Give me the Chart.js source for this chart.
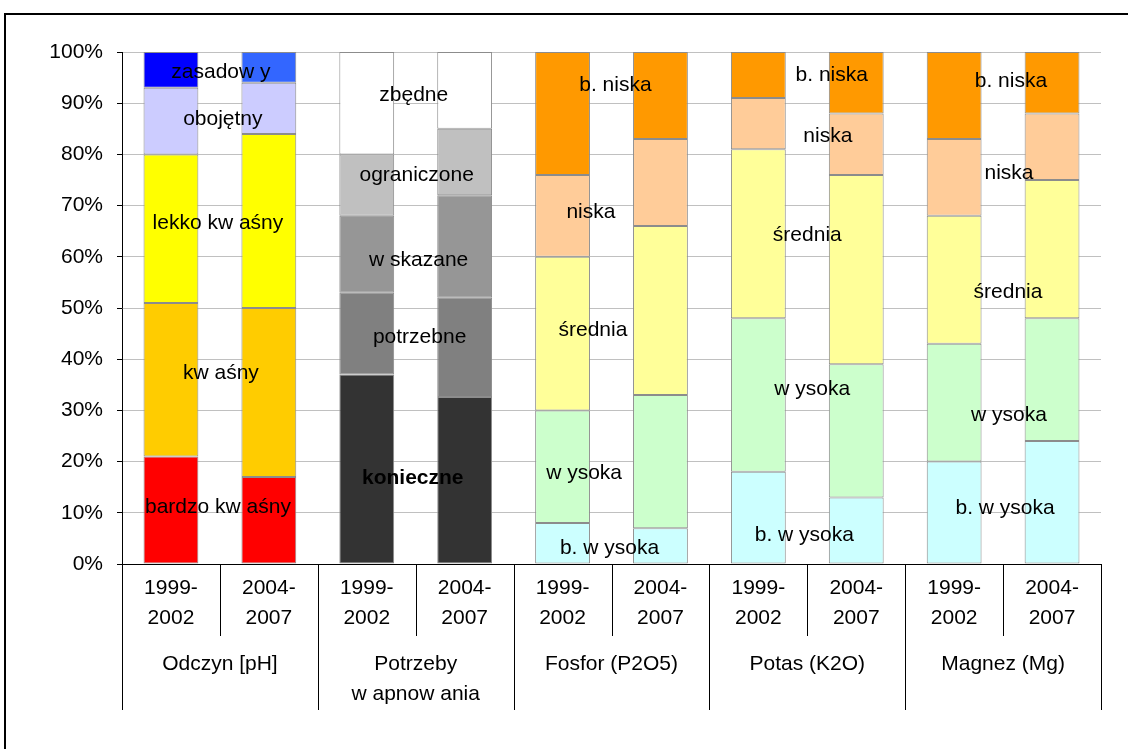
<!DOCTYPE html>
<html>
<head>
<meta charset="utf-8">
<script src="https://cdn.jsdelivr.net/npm/chart.js@4.4.1/dist/chart.umd.min.js"></script>
<style>
  html, body { margin: 0; padding: 0; background: #ffffff; }
  #wrap { width: 1128px; height: 749px; position: relative; }
</style>
</head>
<body>
<div id="wrap"><canvas id="c" width="1128" height="749"></canvas></div>
<script>
// ---------- DATA ----------
const tickLabels = [
  ['1999-', '2002'], ['2004-', '2007'],
  ['1999-', '2002'], ['2004-', '2007'],
  ['1999-', '2002'], ['2004-', '2007'],
  ['1999-', '2002'], ['2004-', '2007'],
  ['1999-', '2002'], ['2004-', '2007']
];
const groupNames = [
  ['Odczyn [pH]'],
  ['Potrzeby', 'w apnow ania'],
  ['Fosfor (P2O5)'],
  ['Potas (K2O)'],
  ['Magnez (Mg)']
];
// stacked shares [%], bottom level to top level
const level1 = [21, 17, 37, 32.6, 8, 7, 18, 13, 20, 24];
const level2 = [30, 33, 16, 19.4, 22, 26, 30, 26, 23, 24];
const level3 = [29, 34, 15, 20, 30, 33, 33, 37, 25, 27];
const level4 = [13, 10, 12, 13, 16, 17, 10, 12, 15, 13];
const level5 = [7, 6, 20, 15, 24, 17, 9, 12, 17, 12];
const yTicks = [0, 10, 20, 30, 40, 50, 60, 70, 80, 90, 100];

// segment label texts per group, top level first
const segNames = [
  ['zasadow y', 'obojętny', 'lekko kw aśny', 'kw aśny', 'bardzo kw aśny'],
  ['zbędne', 'ograniczone', 'w skazane', 'potrzebne', 'konieczne'],
  ['b. niska', 'niska', 'średnia', 'w ysoka', 'b. w ysoka'],
  ['b. niska', 'niska', 'średnia', 'w ysoka', 'b. w ysoka'],
  ['b. niska', 'niska', 'średnia', 'w ysoka', 'b. w ysoka']
];

// ---------- STYLES / ANNOTATION ANCHORS ----------
const colors = {
  l1: ['#FF0000', '#FF0000', '#333333', '#333333', '#CCFFFF', '#CCFFFF', '#CCFFFF', '#CCFFFF', '#CCFFFF', '#CCFFFF'],
  l2: ['#FFCC00', '#FFCC00', '#808080', '#808080', '#CCFFCC', '#CCFFCC', '#CCFFCC', '#CCFFCC', '#CCFFCC', '#CCFFCC'],
  l3: ['#FFFF00', '#FFFF00', '#969696', '#969696', '#FFFF99', '#FFFF99', '#FFFF99', '#FFFF99', '#FFFF99', '#FFFF99'],
  l4: ['#CCCCFF', '#CCCCFF', '#C0C0C0', '#C0C0C0', '#FFCC99', '#FFCC99', '#FFCC99', '#FFCC99', '#FFCC99', '#FFCC99'],
  l5: ['#0000FF', '#3366FF', '#FFFFFF', '#FFFFFF', '#FF9900', '#FF9900', '#FF9900', '#FF9900', '#FF9900', '#FF9900']
};
// [category-index position, value position] for each segment label
const segAnchors = [
  [[0.51, 96.1], [0.53, 86.9], [0.48, 66.6], [0.51, 37.3], [0.48, 11.1]],
  [[2.48, 91.6], [2.51, 76.0], [2.53, 59.4], [2.54, 44.3], [2.47, 16.8]],
  [[4.54, 93.6], [4.29, 68.8], [4.31, 45.6], [4.22, 17.7], [4.48, 3.1]],
  [[6.75, 95.5], [6.71, 83.5], [6.50, 64.3], [6.55, 34.2], [6.47, 5.7]],
  [[8.58, 94.2], [8.56, 76.4], [8.55, 53.0], [8.56, 29.1], [8.52, 10.9]]
];

const FONT = "'Liberation Sans', Arial, sans-serif";
const FS = 21;

function mkDs(label, data, bg) {
  return {
    label: label, data: data, backgroundColor: bg,
    borderColor: '#8c8c8c', borderWidth: 1, borderSkipped: false,
    categoryPercentage: 1.0, barPercentage: 0.56
  };
}

const decorPlugin = {
  id: 'decor',
  beforeDraw(chart) {
    const ctx = chart.ctx;
    ctx.save();
    ctx.fillStyle = '#ffffff';
    ctx.fillRect(0, 0, chart.width, chart.height);
    ctx.restore();
  },
  afterDraw(chart) {
    const ctx = chart.ctx;
    const xs = chart.scales.x, ys = chart.scales.y;
    const ca = chart.chartArea;
    const xAt = v => {
      const i = Math.floor(v);
      const p0 = xs.getPixelForValue(0), p1 = xs.getPixelForValue(1);
      return p0 + (p1 - p0) * v;
    };
    ctx.save();
    // outer frame
    ctx.strokeStyle = '#000';
    ctx.lineWidth = 2;
    ctx.beginPath();
    ctx.moveTo(5, chart.height + 5);
    ctx.lineTo(5, 14);
    ctx.lineTo(chart.width + 5, 14);
    ctx.stroke();

    // x-axis category dividers
    ctx.lineWidth = 1;
    ctx.strokeStyle = '#000';
    const n = tickLabels.length;
    for (let b = 0; b <= n; b++) {
      const x = Math.round(xAt(b - 0.5)) + 0.5;
      const long = (b % 2 === 0);
      ctx.beginPath();
      ctx.moveTo(x, ca.bottom);
      ctx.lineTo(x, long ? 710 : 636);
      ctx.stroke();
    }
    // group names
    ctx.fillStyle = '#000';
    ctx.font = FS + 'px ' + FONT;
    ctx.textAlign = 'center';
    ctx.textBaseline = 'middle';
    groupNames.forEach((g, gi) => {
      const cx = xAt(gi * 2 + 0.5);
      g.forEach((line, li) => ctx.fillText(line, cx, 664 + li * 30));
    });
    // segment labels
    segNames.forEach((names, gi) => {
      names.forEach((t, si) => {
        const a = segAnchors[gi][si];
        const bold = (gi === 1 && si === 4);
        ctx.font = (bold ? 'bold ' : '') + FS + 'px ' + FONT;
        ctx.fillText(t, xAt(a[0]), ys.getPixelForValue(a[1]));
      });
    });
    ctx.restore();
  }
};

new Chart(document.getElementById('c'), {
  type: 'bar',
  data: {
    labels: tickLabels,
    datasets: [
      mkDs('level1', level1, colors.l1),
      mkDs('level2', level2, colors.l2),
      mkDs('level3', level3, colors.l3),
      mkDs('level4', level4, colors.l4),
      mkDs('level5', level5, colors.l5)
    ]
  },
  options: {
    responsive: false,
    animation: false,
    devicePixelRatio: 1,
    layout: { padding: { left: 0, top: 52, right: 27, bottom: 0 } },
    plugins: { legend: { display: false }, tooltip: { enabled: false }, title: { display: false } },
    scales: {
      x: {
        stacked: true,
        grid: { display: false, drawTicks: false },
        border: { display: true, color: '#000', width: 1 },
        ticks: {
          color: '#000', padding: 9, maxRotation: 0, autoSkip: false,
          font: { family: FONT, size: FS, lineHeight: 30 / FS }
        },
        afterFit(scale) { scale.height = 185; }
      },
      y: {
        stacked: true,
        min: 0, max: 100,
        afterBuildTicks(scale) { scale.ticks = yTicks.map(v => ({ value: v })); },
        grid: { color: '#c0c0c0', lineWidth: 1, tickColor: '#000', tickLength: 5 },
        border: { display: true, color: '#000', width: 1 },
        ticks: {
          color: '#000', padding: 14,
          font: { family: FONT, size: FS },
          callback: v => v + '%'
        },
        afterFit(scale) { scale.width = 122; }
      }
    }
  },
  plugins: [decorPlugin]
});
</script>
</body>
</html>
